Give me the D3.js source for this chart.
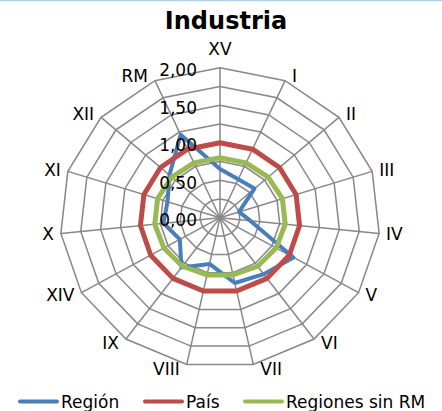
<!DOCTYPE html>
<html>
<head>
<meta charset="utf-8">
<script src="https://cdn.jsdelivr.net/npm/d3@7"></script>
<style>
body { margin: 0; background: #fff; }
text { font-family: "DejaVu Sans", sans-serif; fill: #000; }
</style>
</head>
<body>
<div id="chart"></div>
<script>
// values
var categories = ["XV", "I", "II", "III", "IV", "V", "VI", "VII", "VIII", "IX", "XIV", "X", "XI", "XII", "RM"]
var region = [0.65, 0.56, 0.58, 0.25, 0.38, 1.06, 0.93, 0.89, 0.63, 0.82, 0.58, 0.71, 0.69, 0.85, 1.21]
var pais = [1, 1, 1, 1, 1, 1, 1, 1, 1, 1, 1, 1, 1, 1, 1]
var sinRM = [0.80, 0.80, 0.81, 0.82, 0.82, 0.81, 0.80, 0.78, 0.78, 0.80, 0.81, 0.82, 0.82, 0.81, 0.80]
var ticks = [0, 0.5, 1, 1.5, 2]
var tickLabels = ["0,00", "0,50", "1,00", "1,50", "2,00"]
var rings = [0.25, 0.5, 0.75, 1, 1.25, 1.5, 1.75, 2]
var seriesNames = ["Región", "País", "Regiones sin RM"]
var seriesColors = ["#4a7ebb", "#be4b48", "#98b954"]
var seriesWidths = [4, 5, 5]

var width = 442, height = 411
var cx = 220, cy = 217.7

var svg = d3.select("#chart").append("svg")
    .attr("width", width)
    .attr("height", height)

svg.append("line")
    .attr("x1", 0).attr("x2", width)
    .attr("y1", 0.5).attr("y2", 0.5)
    .style("stroke", "#aed3ec")
    .style("stroke-width", 1.5)

var rx = d3.scaleLinear().domain([0, 2]).range([0, 160])
var ry = d3.scaleLinear().domain([0, 2]).range([0, 150])
var angle = d3.scaleLinear().domain([0, categories.length]).range([0, 2 * Math.PI])

function px(v, i) { return cx + rx(v) * Math.sin(angle(i)) }
function py(v, i) { return cy - ry(v) * Math.cos(angle(i)) }

var radar = d3.line()
    .x(function (d, i) { return px(d, i) })
    .y(function (d, i) { return py(d, i) })
    .curve(d3.curveLinearClosed)

var g = svg.append("g")

// rings
rings.forEach(function (r) {
    g.append("path")
        .attr("d", radar(categories.map(function () { return r })))
        .style("fill", "none")
        .style("stroke", "#878787")
        .style("stroke-width", 1.5)
})

// spokes
g.selectAll(".spoke")
    .data(categories)
    .enter().append("line")
    .attr("class", "spoke")
    .attr("x1", cx).attr("y1", cy)
    .attr("x2", function (d, i) { return px(2, i) })
    .attr("y2", function (d, i) { return py(2, i) })
    .style("stroke", "#878787")
    .style("stroke-width", 1.5)

// series
var series = [region, pais, sinRM]
series.forEach(function (s, k) {
    g.append("path")
        .attr("d", radar(s))
        .style("fill", "none")
        .style("stroke", seriesColors[k])
        .style("stroke-width", seriesWidths[k])
        .style("stroke-linejoin", "round")
})

// tick labels on the first axis
g.selectAll(".tick")
    .data(ticks)
    .enter().append("text")
    .attr("class", "tick")
    .attr("x", cx - 23)
    .attr("y", function (d) { return cy - ry(d) + 2.5 })
    .attr("dy", "0.36em")
    .attr("text-anchor", "end")
    .style("font-size", "17px")
    .text(function (d, i) { return tickLabels[i] })

// category labels
g.selectAll(".cat")
    .data(categories)
    .enter().append("text")
    .attr("class", "cat")
    .style("font-size", "17px")
    .attr("text-anchor", function (d, i) {
        var s = Math.sin(angle(i))
        if (Math.abs(s) < 0.1) return "middle"
        return s > 0 ? "start" : "end"
    })
    .attr("x", function (d, i) {
        var s = Math.sin(angle(i))
        var off = Math.abs(s) < 0.1 ? 0 : (s > 0 ? 7 : -7)
        return px(2, i) + off
    })
    .attr("y", function (d, i) {
        var s = Math.sin(angle(i)), c = Math.cos(angle(i))
        var off = Math.abs(s) < 0.1 ? 18.5 : 5
        return py(2, i) - c * off
    })
    .attr("dy", "0.36em")
    .text(function (d) { return d })

// title
svg.append("text")
    .attr("x", 226)
    .attr("y", 29)
    .attr("text-anchor", "middle")
    .style("font-size", "24px")
    .style("font-weight", "bold")
    .text("Industria")

// legend
var legendX = [20, 145, 245]
var legend = svg.selectAll(".legend")
    .data(seriesNames)
    .enter().append("g")
    .attr("class", "legend")
    .attr("transform", function (d, i) { return "translate(" + legendX[i] + ",401.5)" })

legend.append("line")
    .attr("x1", 0).attr("x2", 37)
    .attr("y1", 0).attr("y2", 0)
    .style("stroke", function (d, i) { return seriesColors[i] })
    .style("stroke-width", 4)
    .style("stroke-linecap", "round")

legend.append("text")
    .attr("x", 41)
    .attr("y", 0)
    .attr("dy", "0.36em")
    .style("font-size", "17px")
    .text(function (d) { return d })
</script>
</body>
</html>
